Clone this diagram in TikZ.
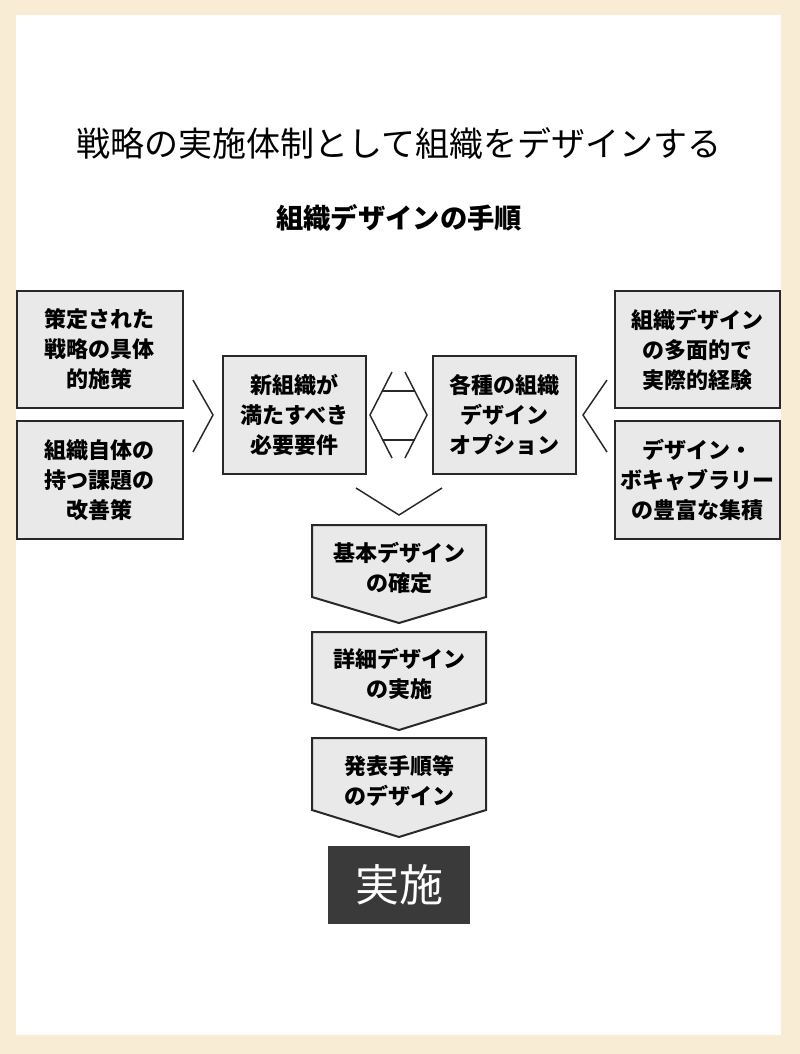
\documentclass[tikz,border=0pt]{standalone}
\usepackage{fontspec}
\setmainfont{Noto Sans CJK JP}

\definecolor{cream}{RGB}{248,237,212}
\definecolor{boxgray}{RGB}{233,233,233}
\definecolor{edgegray}{RGB}{40,40,40}
\definecolor{darkbox}{RGB}{58,58,58}

\tikzset{
    itembox/.style={draw=edgegray, line width=1.5pt, fill=boxgray, align=center, inner sep=0pt,
        font=\bfseries\fontsize{16.5}{22.5}\selectfont},
    stepshape/.style={draw=edgegray, line width=1.5pt, fill=boxgray},
    steptext/.style={align=center, font=\bfseries\fontsize{16.5}{23}\selectfont},
    chevron/.style={draw=edgegray, line width=1.1pt}
}

\begin{document}
\begin{tikzpicture}[x=0.75pt, y=-0.75pt]

    % Frame
    \fill[cream] (0,0) rectangle (800,1054);
    \fill[white] (16,15) rectangle (781,1035);
    \useasboundingbox (0,0) rectangle (800,1054);

    % Titles
    \node (title) at (399,143) {\fontsize{25.5}{30}\selectfont 戦略の実施体制として組織をデザインする};
    \node (subtitle) at (399,218) {\bfseries\fontsize{20.5}{24}\selectfont 組織デザインの手順};

    % Left inputs
    \node[itembox, minimum width=166*0.75pt, minimum height=117*0.75pt] (strategy) at (100,349.5) {策定された\\戦略の具体\\的施策};
    \node[itembox, minimum width=166*0.75pt, minimum height=118*0.75pt] (issues) at (100,480) {組織自体の\\持つ課題の\\改善策};

    % Right inputs
    \node[itembox, minimum width=165*0.75pt, minimum height=117*0.75pt] (experience) at (697.5,349.5) {組織デザイン\\の多面的で\\実際的経験};
    \node[itembox, minimum width=165*0.75pt, minimum height=118*0.75pt] (vocab) at (697.5,480) {デザイン・\\ボキャブラリー\\の豊富な集積};

    % Middle boxes
    \node[itembox, minimum width=143*0.75pt, minimum height=118*0.75pt] (needs) at (294.5,415) {新組織が\\満たすべき\\必要要件};
    \node[itembox, minimum width=143*0.75pt, minimum height=118*0.75pt] (options) at (504.5,415) {各種の組織\\デザイン\\オプション};

    % Chevrons between boxes
    \draw[chevron] (193,380) -- (213,415) -- (193,452); % into needs
    \draw[chevron] (607,380) -- (583,415) -- (607,452); % into options
    \draw[chevron] (356,488) -- (399,515) -- (442,488); % down to steps

    % Hexagon between needs and options
    \draw[chevron] (392,372) -- (370,415) -- (392,458);
    \draw[chevron] (405,372) -- (427,415) -- (405,458);
    \draw[chevron] (382.3,391) -- (414.7,391);
    \draw[chevron] (382.3,440) -- (414.7,440);

    % Steps
    \draw[stepshape] (312,525) -- (486,525) -- (486,597) -- (399,623) -- (312,597) -- cycle;
    \node[steptext] (basic) at (399,568) {基本デザイン\\の確定};

    \draw[stepshape] (312,632) -- (486,632) -- (486,703) -- (399,730) -- (312,703) -- cycle;
    \node[steptext] (detail) at (399,674) {詳細デザイン\\の実施};

    \draw[stepshape] (312,738) -- (486,738) -- (486,810) -- (399,837) -- (312,810) -- cycle;
    \node[steptext] (announce) at (399,781) {発表手順等\\のデザイン};

    % Final box
    \node[fill=darkbox, text=white, minimum width=142*0.75pt, minimum height=78*0.75pt,
        font=\fontsize{33}{36}\selectfont] (execute) at (399,885) {実施};

\end{tikzpicture}
\end{document}
